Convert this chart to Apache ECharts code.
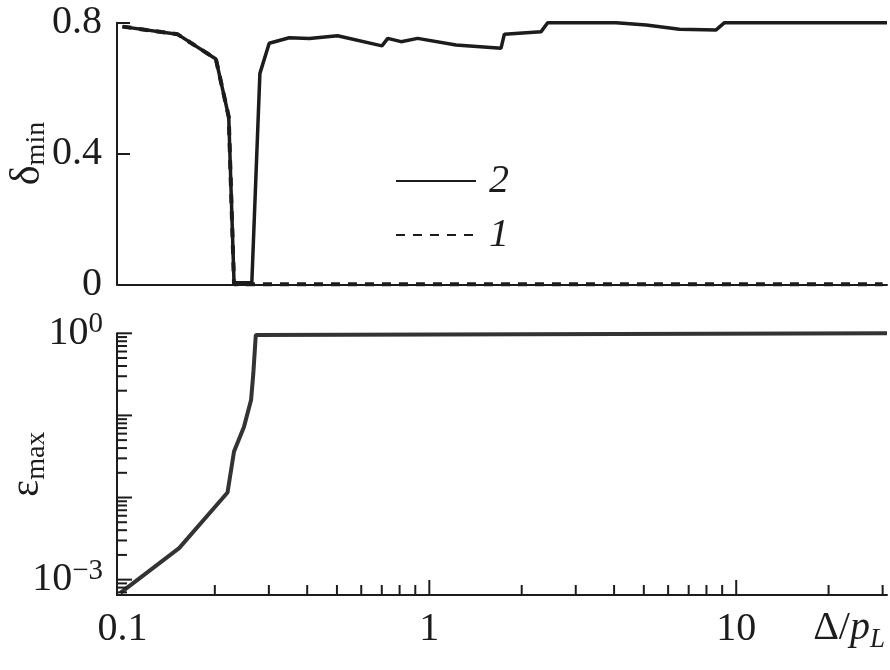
<!DOCTYPE html>
<html><head><meta charset="utf-8">
<script src="https://cdn.jsdelivr.net/npm/echarts@6/dist/echarts.min.js"></script>
<style>html,body{margin:0;padding:0;background:#fff}#c{width:890px;height:670px}</style>
</head><body><div id="c"></div>
<script>
// ---- axis ranges & ticks ----
const xRange = [0.096, 31];
const deltaRange = [0, 0.8];
const epsRange = [6.5e-4, 1];
const xLabelTicks = [0.1, 1, 10];
const epsLabelTicks = [1, 0.001];
const xMajorTicks = [1, 10];
const xMinorTicks = [0.2, 0.3, 0.4, 0.5, 0.6, 0.7, 0.8, 0.9, 2, 3, 4, 5, 6, 7, 8, 9, 20, 30];
const epsMajorTicks = [0.001, 0.01, 0.1, 1];
const epsMinorTicks = [7e-4, 8e-4, 9e-4,
  0.002, 0.003, 0.004, 0.005, 0.006, 0.007, 0.008, 0.009,
  0.02, 0.03, 0.04, 0.05, 0.06, 0.07, 0.08, 0.09,
  0.2, 0.3, 0.4, 0.5, 0.6, 0.7, 0.8, 0.9];

// ---- data: delta_min, curve 2 (solid) ----
const curve2X = [0.1, 0.151, 0.2016, 0.222, 0.231, 0.264, 0.2805, 0.3008, 0.3496, 0.4065, 0.5023, 0.701, 0.732, 0.809, 0.916, 1.222, 1.713, 1.756, 2.31, 2.43, 4.06, 5.09, 6.53, 8.6, 9.16, 31];
const curve2Y = [0.788, 0.765, 0.689, 0.512, 0.005, 0.005, 0.645, 0.737, 0.754, 0.752, 0.760, 0.729, 0.752, 0.742, 0.752, 0.732, 0.722, 0.765, 0.772, 0.800, 0.800, 0.793, 0.780, 0.778, 0.800, 0.800];
// ---- data: delta_min, curve 1 (dashed) ----
const curve1X = [0.1, 0.151, 0.2016, 0.222, 0.231, 30];
const curve1Y = [0.788, 0.765, 0.689, 0.512, 0.0, 0.0];
// ---- data: eps_max ----
const epsX = [0.0985, 0.153, 0.22, 0.231, 0.249, 0.2625, 0.267, 0.272, 0.274, 31];
const epsY = [6.9e-4, 2.42e-3, 0.0115, 0.0363, 0.073, 0.154, 0.326, 0.955, 1.0, 1.0];

const zip = (a, b) => a.map((v, i) => [v, b[i]]);
const FONT = "'Liberation Serif', 'Times New Roman', serif";
const INK = '#1c1c1c';

function xTickSeries(values, len) {
  return {
    type: 'custom', xAxisIndex: 1, yAxisIndex: 1, silent: true, clip: false, z: 5,
    data: values.map(v => [v, epsRange[0]]),
    renderItem: (params, api) => {
      const p = api.coord([api.value(0), api.value(1)]);
      return { type: 'line', shape: { x1: p[0], y1: p[1], x2: p[0], y2: p[1] - len },
        style: { stroke: INK, lineWidth: 2 } };
    }
  };
}
function yTickSeries(values, len) {
  return {
    type: 'custom', xAxisIndex: 1, yAxisIndex: 1, silent: true, clip: false, z: 5,
    data: values.map(v => [xRange[0], v]),
    renderItem: (params, api) => {
      const p = api.coord([api.value(0), api.value(1)]);
      return { type: 'line', shape: { x1: p[0], y1: p[1], x2: p[0] + len, y2: p[1] },
        style: { stroke: INK, lineWidth: 2 } };
    }
  };
}
const matchTick = (list, v) => list.find(t => Math.abs(t - v) / t < 1e-6);
const subRich = (mainKey, mainSize) => ({
  [mainKey]: { fontSize: mainSize, fontFamily: FONT, color: INK, lineHeight: 44, verticalAlign: 'top' },
  s: { fontSize: 28, fontFamily: FONT, color: INK, lineHeight: 24, padding: [30, 0, 0, 0], verticalAlign: 'bottom' }
});

const chart = echarts.init(document.getElementById('c'), null, { renderer: 'canvas' });
chart.setOption({
  animation: false,
  backgroundColor: '#fff',
  grid: [
    { left: 117, right: 3, top: 22.7, height: 261.6, containLabel: false, outerBoundsMode: 'none' },
    { left: 117, right: 3, top: 333.3, height: 261.7, containLabel: false, outerBoundsMode: 'none' }
  ],
  xAxis: [
    { type: 'log', logBase: 10, gridIndex: 0, min: xRange[0], max: xRange[1],
      axisLine: { show: true, lineStyle: { color: INK, width: 2 } },
      axisTick: { show: false }, axisLabel: { show: false }, splitLine: { show: false }, minorTick: { show: false } },
    { type: 'log', logBase: 10, gridIndex: 1, min: xRange[0], max: xRange[1],
      axisLine: { show: true, lineStyle: { color: INK, width: 2 } },
      axisTick: { show: false }, splitLine: { show: false }, minorTick: { show: false },
      axisLabel: { show: true, margin: 14, color: INK, fontFamily: FONT, fontSize: 40,
        showMinLabel: true, showMaxLabel: true, hideOverlap: false,
        formatter: v => { const t = matchTick(xLabelTicks, v); return t === undefined ? '' : String(t); } } }
  ],
  yAxis: [
    { type: 'value', gridIndex: 0, min: deltaRange[0], max: deltaRange[1], interval: 0.4,
      axisLine: { show: true, lineStyle: { color: INK, width: 2 } },
      axisTick: { show: true, inside: true, length: 13, lineStyle: { color: INK, width: 2 } },
      splitLine: { show: false },
      axisLabel: { margin: 15, color: INK, fontFamily: FONT, fontSize: 40,
        formatter: v => v === 0 ? '0' : v.toFixed(1) },
      name: '{d|δ}{s|min}', nameLocation: 'middle', nameGap: 66, nameMoveOverlap: false,
      nameTextStyle: { color: INK, fontFamily: FONT, rich: subRich('d', 42) } },
    { type: 'log', logBase: 10, gridIndex: 1, min: epsRange[0], max: epsRange[1],
      axisLine: { show: true, lineStyle: { color: INK, width: 2 } },
      axisTick: { show: false }, splitLine: { show: false }, minorTick: { show: false },
      axisLabel: { margin: 14, color: INK, fontFamily: FONT, fontSize: 40, showMinLabel: true, showMaxLabel: true,
        hideOverlap: false,
        formatter: v => { const t = matchTick(epsLabelTicks, v); if (t === undefined) return '';
          const e = Math.round(Math.log10(t)); return '{b|10}{s|' + (e < 0 ? '\u2212' + (-e) : e) + '}'; },
        rich: { b: { fontSize: 40, fontFamily: FONT, color: INK, lineHeight: 46 },
                s: { fontSize: 29, fontFamily: FONT, color: INK, lineHeight: 26, verticalAlign: 'top' } } },
      name: '{e|ε}{s|max}', nameLocation: 'middle', nameGap: 66, nameMoveOverlap: false,
      nameTextStyle: { color: INK, fontFamily: FONT, rich: subRich('e', 40) } }
  ],
  legend: {
    orient: 'vertical', left: 390, top: 156, itemWidth: 80, itemHeight: 14, itemGap: 14,
    selectedMode: false, data: ['2', '1'],
    textStyle: { fontFamily: FONT, fontStyle: 'italic', fontSize: 40, color: INK, padding: [0, 0, 0, 8] }
  },
  graphic: [{
    type: 'text', right: 5, top: 608,
    style: { text: '{a|\u0394/}{p|p}{l|L}', fill: INK,
      rich: { a: { fontSize: 40, fontFamily: FONT, fill: INK, lineHeight: 50 },
              p: { fontSize: 40, fontFamily: FONT, fontStyle: 'italic', fill: INK, lineHeight: 50 },
              l: { fontSize: 27, fontFamily: FONT, fontStyle: 'italic', fill: INK, lineHeight: 26, verticalAlign: 'bottom' } } }
  }],
  series: [
    { name: '1', type: 'line', xAxisIndex: 0, yAxisIndex: 0, data: zip(curve1X, curve1Y),
      symbol: 'none', showSymbol: false, clip: false, z: 3,
      lineStyle: { color: INK, width: 4, type: [9, 8] }, itemStyle: { color: 'rgba(0,0,0,0)' } },
    { name: '2', type: 'line', xAxisIndex: 0, yAxisIndex: 0, data: zip(curve2X, curve2Y),
      symbol: 'none', showSymbol: false, clip: false, z: 4,
      lineStyle: { color: INK, width: 3.5 }, itemStyle: { color: 'rgba(0,0,0,0)' } },
    { name: 'eps', type: 'line', xAxisIndex: 1, yAxisIndex: 1, data: zip(epsX, epsY),
      symbol: 'none', showSymbol: false, clip: false, z: 4,
      lineStyle: { color: '#333', width: 4 }, itemStyle: { color: 'rgba(0,0,0,0)' } },
    xTickSeries(xMajorTicks, 15),
    xTickSeries(xMinorTicks, 10),
    yTickSeries(epsMajorTicks, 15),
    yTickSeries(epsMinorTicks, 10)
  ]
});
</script></body></html>
